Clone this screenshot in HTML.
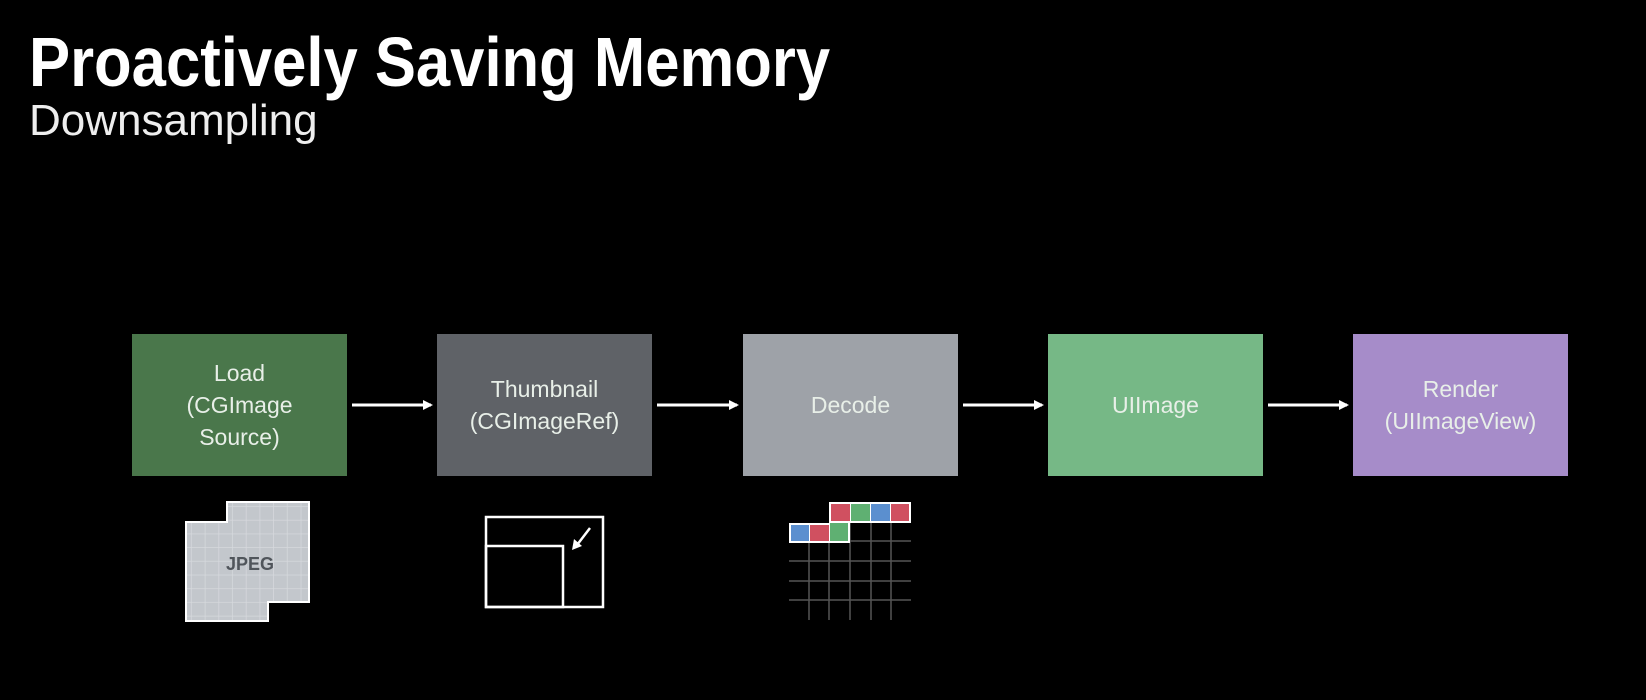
<!DOCTYPE html>
<html><head><meta charset="utf-8"><style>
html,body{margin:0;padding:0;background:#000;width:1646px;height:700px;overflow:hidden;font-family:"Liberation Sans",sans-serif}
.t{position:absolute;left:29px;top:22px;font-size:70px;font-weight:bold;color:#fff;transform:scaleX(0.88);transform-origin:left top;white-space:nowrap;line-height:80px}
.s{position:absolute;left:29px;top:96px;font-size:44px;color:#eee;line-height:50px;white-space:nowrap}
.b{position:absolute;top:334px;width:215px;height:142px;display:flex;align-items:center;justify-content:center;text-align:center;color:#e8efe8;font-size:23px;line-height:32px}
</style></head><body>
<div class="t">Proactively Saving Memory</div>
<div class="s">Downsampling</div>
<div class="b" style="left:132px;background:#4a774b">Load<br>(CGImage<br>Source)</div>
<div class="b" style="left:437px;background:#5f6267">Thumbnail<br>(CGImageRef)</div>
<div class="b" style="left:743px;background:#9ea2a8">Decode</div>
<div class="b" style="left:1048px;background:#76b886">UIImage</div>
<div class="b" style="left:1353px;background:#a68cc9">Render<br>(UIImageView)</div>
<svg width="1646" height="700" style="position:absolute;left:0;top:0">
<defs><marker id="a" markerWidth="10" markerHeight="10" refX="8" refY="5" orient="auto" markerUnits="userSpaceOnUse"><path d="M0,0 L10,5 L0,10 Z" fill="#fff"/></marker>
<pattern id="g" width="13.7" height="13.7" patternUnits="userSpaceOnUse"><rect width="13.7" height="13.7" fill="#c3c7cc"/><path d="M13.7 0V13.7M0 13.7H13.7" stroke="#d6d9dd" stroke-width="1.5"/></pattern></defs>
<g stroke="#fff" stroke-width="3" marker-end="url(#a)">
<line x1="352" y1="405" x2="431" y2="405"/><line x1="657" y1="405" x2="737" y2="405"/><line x1="963" y1="405" x2="1042" y2="405"/><line x1="1268" y1="405" x2="1347" y2="405"/></g>
<path d="M227,502 H309 V602 H268 V621 H186 V522 H227 Z" fill="url(#g)" stroke="#fff" stroke-width="2"/>
<text x="250" y="570" fill="#50555b" font-size="18" font-weight="bold" text-anchor="middle" font-family="Liberation Sans,sans-serif">JPEG</text>
<g fill="none" stroke="#fff" stroke-width="2.5"><rect x="486" y="517" width="117" height="90"/><rect x="486" y="546" width="77" height="61"/><line x1="590" y1="528" x2="577" y2="545"/></g>
<path d="M572 550 L574 539 L582 546 Z" fill="#fff"/>
<g stroke="#555" stroke-width="1.5"><line x1="789" y1="541" x2="911" y2="541"/><line x1="789" y1="561" x2="911" y2="561"/><line x1="789" y1="581" x2="911" y2="581"/><line x1="789" y1="600" x2="911" y2="600"/>
<line x1="809" y1="541" x2="809" y2="620"/><line x1="829" y1="541" x2="829" y2="620"/><line x1="850" y1="520" x2="850" y2="620"/><line x1="871" y1="520" x2="871" y2="620"/><line x1="891" y1="520" x2="891" y2="620"/></g>
<rect x="829" y="502" width="82" height="21" fill="#fff"/>
<rect x="831" y="504" width="19" height="17" fill="#d05060"/><rect x="851" y="504" width="19" height="17" fill="#5fb072"/><rect x="871" y="504" width="19" height="17" fill="#5b8fcf"/><rect x="891" y="504" width="18" height="17" fill="#d05060"/>
<rect x="789" y="523" width="61" height="20" fill="#fff"/>
<rect x="791" y="525" width="18" height="16" fill="#5b8fcf"/><rect x="810" y="525" width="19" height="16" fill="#d05060"/><rect x="830" y="523" width="18" height="18" fill="#5fb072"/>
</svg>
</body></html>
